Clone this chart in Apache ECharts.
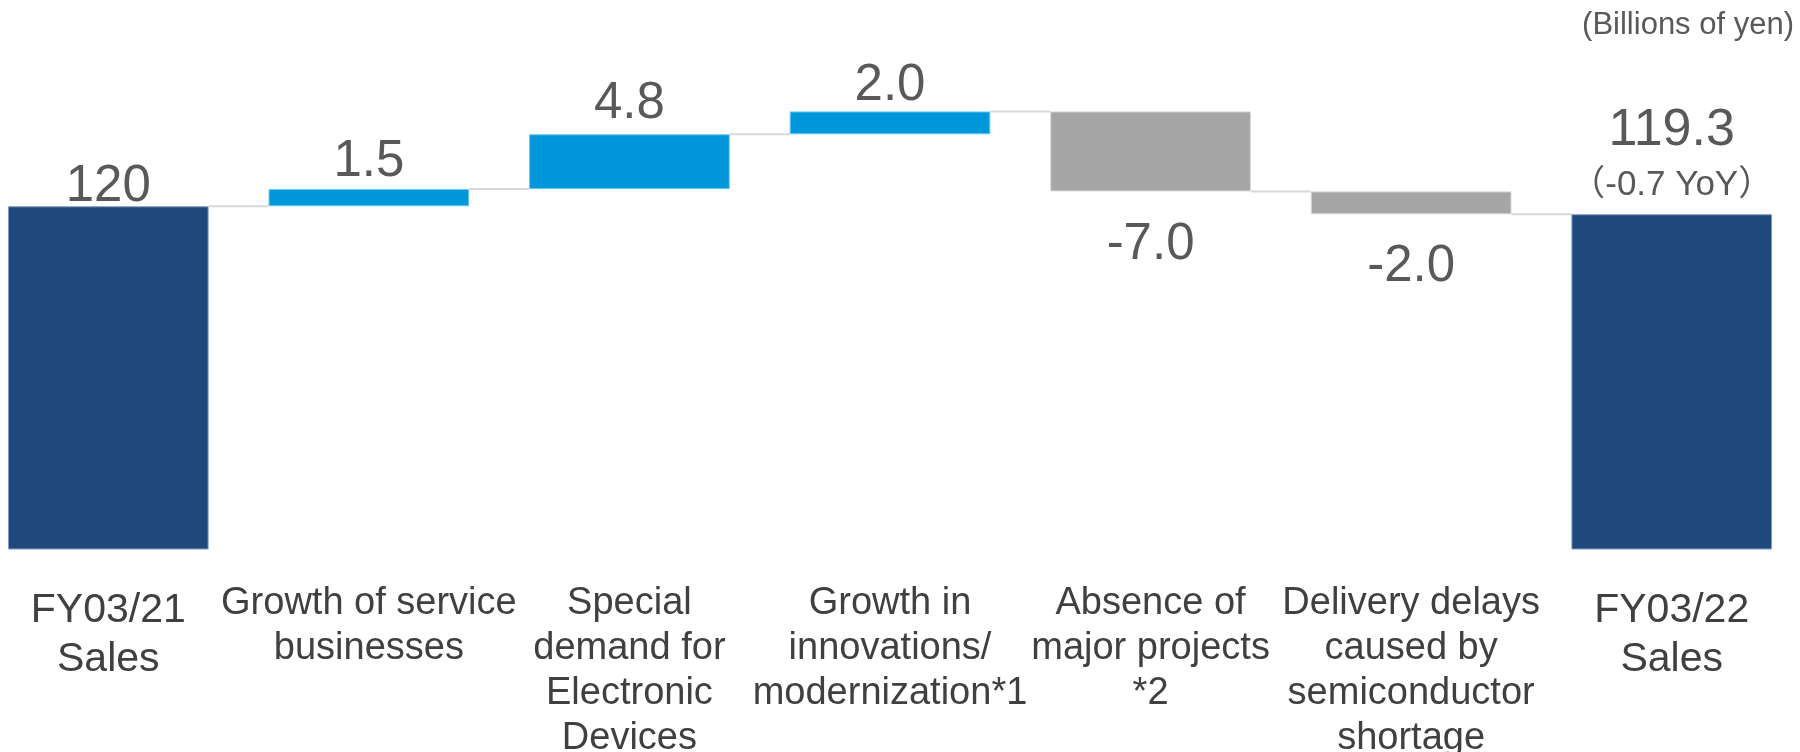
<!DOCTYPE html>
<html>
<head>
<meta charset="utf-8">
<style>
  html, body { margin: 0; padding: 0; background: #ffffff; }
  #chart { width: 1800px; height: 752px; }
</style>
<script src="https://cdn.jsdelivr.net/npm/echarts@6/dist/echarts.min.js"></script>
</head>
<body>
<div id="chart"></div>
<script>
// ---- Data ----
const categories = [
  'FY03/21\nSales',
  'Growth of service\nbusinesses',
  'Special\ndemand for\nElectronic\nDevices',
  'Growth in\ninnovations/\nmodernization*1',
  'Absence of\nmajor projects\n*2',
  'Delivery delays\ncaused by\nsemiconductor\nshortage',
  'FY03/22\nSales'
];
const startTotal = 120;
const endTotal = 119.3;
const changes = [null, 1.5, 4.8, 2.0, -7.0, -2.0, null];
const valueLabels = ['120', '1.5', '4.8', '2.0', '-7.0', '-2.0', '119.3'];
const yoyLabel = '（-0.7 YoY）';
const unitLabel = '(Billions of yen)';

// ---- Colors / styles ----
const NAVY = '#1F497D';
const BLUE = '#0098DB';
const GREY = '#A6A6A6';
const VALUE_COLOR = '#595959';
const CAT_COLOR = '#404040';
const FONT = '"Liberation Sans", Arial, "Noto Sans CJK JP", sans-serif';
const GAP = 0.23;
// label distance from bar edge, per bar (style only)
const LABEL_GAP = [-6, 2, 5, 0, 28, 27, 4];

// ---- Build waterfall series from data ----
const n = categories.length;
const base = [], totals = [], rises = [], falls = [], connectors = [];
let running = startTotal;
for (let i = 0; i < n; i++) {
  if (i === 0) {
    base.push(0); totals.push(startTotal); rises.push('-'); falls.push('-');
    running = startTotal;
  } else if (i === n - 1) {
    base.push(0); totals.push(endTotal); rises.push('-'); falls.push('-');
  } else {
    const c = changes[i];
    if (c >= 0) {
      base.push(running); rises.push(c); falls.push('-'); totals.push('-');
      running = +(running + c).toFixed(2);
    } else {
      running = +(running + c).toFixed(2);
      base.push(running); falls.push(-c); rises.push('-'); totals.push('-');
    }
  }
  if (i < n - 1) connectors.push([i, running]);
}

const totalData = totals.map((v, i) => {
  if (v === '-') return '-';
  if (i === 0) {
    return { value: v, label: { show: true, position: 'top', distance: LABEL_GAP[i],
      formatter: valueLabels[i], fontSize: 51, color: VALUE_COLOR, fontFamily: FONT } };
  }
  return { value: v, label: { show: true, position: 'top', distance: LABEL_GAP[i],
    formatter: '{a|' + valueLabels[i] + '}\n{b|' + yoyLabel + '}',
    rich: {
      a: { fontSize: 52, lineHeight: 59, color: VALUE_COLOR, fontFamily: FONT, align: 'center' },
      b: { fontSize: 35, lineHeight: 50, color: VALUE_COLOR, fontFamily: FONT, align: 'center' }
    } } };
});
const riseData = rises.map((v, i) => v === '-' ? '-' : { value: v, label: {
  show: true, position: 'top', distance: LABEL_GAP[i], formatter: valueLabels[i],
  fontSize: 51, color: VALUE_COLOR, fontFamily: FONT } });
const fallData = falls.map((v, i) => v === '-' ? '-' : { value: v, label: {
  show: true, position: 'bottom', distance: LABEL_GAP[i], formatter: valueLabels[i],
  fontSize: 51, color: VALUE_COLOR, fontFamily: FONT } });

const catData = categories.map((c, i) => {
  if (i === 0 || i === n - 1) {
    return { value: c, textStyle: { fontSize: 41, lineHeight: 49, padding: [5, 0, 0, 0] } };
  }
  return { value: c, textStyle: { fontSize: 38, lineHeight: 45 } };
});

const chart = echarts.init(document.getElementById('chart'), null, { renderer: 'canvas' });
chart.setOption({
  animation: false,
  backgroundColor: '#ffffff',
  grid: { left: -22, right: -2, top: 92, bottom: 203, containLabel: false, outerBoundsMode: 'none' },
  xAxis: {
    type: 'category',
    data: catData,
    axisLine: { show: false },
    axisTick: { show: false },
    axisLabel: {
      interval: 0, margin: 32, color: CAT_COLOR, fontFamily: FONT,
      fontSize: 38, lineHeight: 45, align: 'center'
    }
  },
  yAxis: {
    type: 'value', min: 90, max: 130, show: false,
    splitLine: { show: false }
  },
  graphic: [{
    type: 'text', right: 6, top: 10,
    style: { text: unitLabel, font: '31px ' + FONT, fill: VALUE_COLOR }
  }],
  series: [
    {
      name: 'connector', type: 'custom', z: 1,
      encode: { x: 0, y: 1 },
      data: connectors,
      renderItem: function (params, api) {
        const p = api.coord([api.value(0), api.value(1)]);
        const band = api.size([1, 0])[0];
        const bw = band * (1 - GAP);
        return {
          type: 'line',
          shape: { x1: p[0] + bw / 2, y1: p[1], x2: p[0] + band - bw / 2, y2: p[1] },
          style: { stroke: '#D9D9D9', lineWidth: 2 }
        };
      },
      silent: true
    },
    {
      name: 'base', type: 'bar', stack: 'wf', barCategoryGap: (GAP * 100) + '%',
      itemStyle: { color: 'transparent' }, data: base, silent: true, z: 2
    },
    {
      name: 'total', type: 'bar', stack: 'wf', z: 3,
      itemStyle: { color: NAVY, borderColor: '#7F9CC0', borderWidth: 1 },
      data: totalData
    },
    {
      name: 'rise', type: 'bar', stack: 'wf', z: 3,
      itemStyle: { color: BLUE, borderColor: '#6CC6F0', borderWidth: 1 },
      data: riseData
    },
    {
      name: 'fall', type: 'bar', stack: 'wf', z: 3,
      itemStyle: { color: GREY, borderColor: '#D4D4D4', borderWidth: 1 },
      data: fallData
    }
  ]
});
</script>
</body>
</html>
